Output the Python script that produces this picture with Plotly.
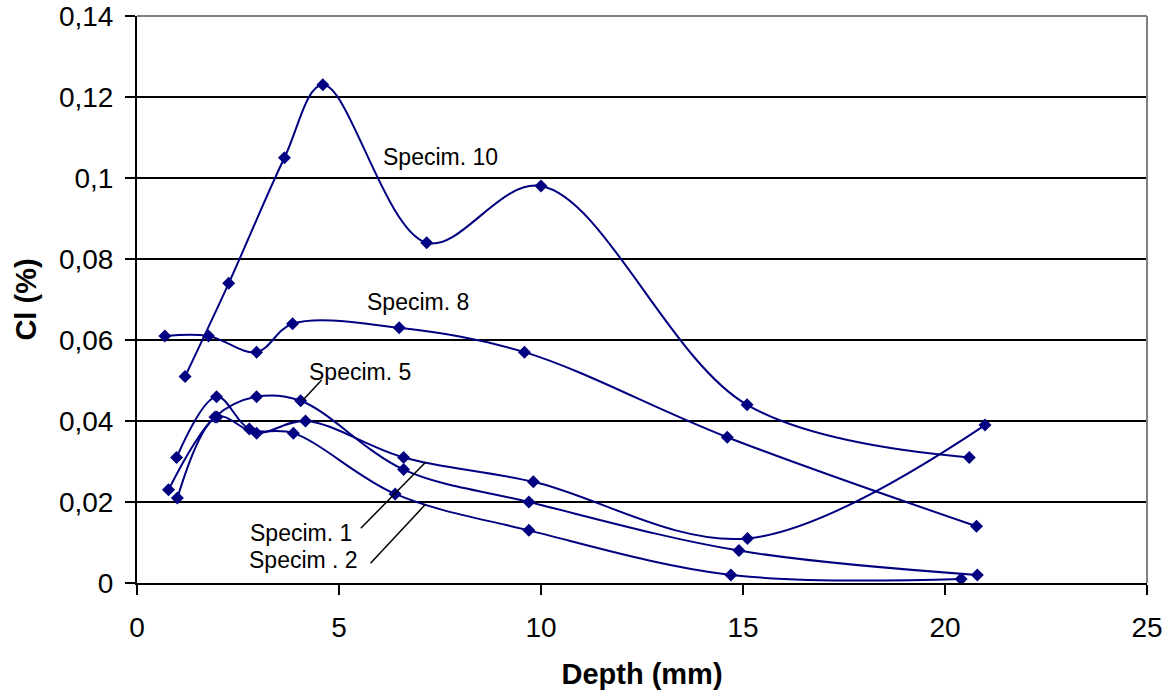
import plotly.graph_objects as go

# Chloride content profiles (Cl %) versus depth (mm) for five specimens
spec1_depth = [1.0, 1.98, 2.96, 4.17, 6.6, 9.81, 15.11, 20.99]
spec1_cl = [0.021, 0.041, 0.037, 0.040, 0.031, 0.025, 0.011, 0.039]

spec2_depth = [0.98, 1.97, 2.78, 3.87, 6.39, 9.7, 14.7, 20.4]
spec2_cl = [0.031, 0.046, 0.038, 0.037, 0.022, 0.013, 0.002, 0.001]

spec5_depth = [0.78, 1.93, 2.96, 4.05, 6.6, 9.7, 14.9, 20.8]
spec5_cl = [0.023, 0.041, 0.046, 0.045, 0.028, 0.020, 0.008, 0.002]

spec8_depth = [0.69, 1.77, 2.96, 3.85, 6.49, 9.59, 14.61, 20.78]
spec8_cl = [0.061, 0.061, 0.057, 0.064, 0.063, 0.057, 0.036, 0.014]

spec10_depth = [1.19, 2.27, 3.65, 4.6, 7.17, 10.0, 15.1, 20.6]
spec10_cl = [0.051, 0.074, 0.105, 0.123, 0.084, 0.098, 0.044, 0.031]

y_ticks = [0, 0.02, 0.04, 0.06, 0.08, 0.1, 0.12, 0.14]
x_ticks = [0, 5, 10, 15, 20, 25]

LINE = "#000080"
FONT = "Arial, Liberation Sans, sans-serif"

series = [
    ("Specim. 1", spec1_depth, spec1_cl),
    ("Specim . 2", spec2_depth, spec2_cl),
    ("Specim. 5", spec5_depth, spec5_cl),
    ("Specim. 8", spec8_depth, spec8_cl),
    ("Specim. 10", spec10_depth, spec10_cl),
]

fig = go.Figure()
for name, xs, ys in series:
    fig.add_trace(go.Scatter(
        x=xs, y=ys, name=name, mode="lines+markers",
        line=dict(color=LINE, width=2, shape="spline", smoothing=1.0),
        marker=dict(symbol="diamond", size=10, color=LINE),
        showlegend=False,
    ))

# Series labels placed beside their curves
labels = [
    ("Specim. 10", 7.52, 0.1053),
    ("Specim. 8", 6.96, 0.0695),
    ("Specim. 5", 5.52, 0.0521),
    ("Specim. 1", 4.06, 0.0124),
    ("Specim . 2", 4.13, 0.0057),
]
for text, lx, ly in labels:
    fig.add_annotation(x=lx, y=ly, text=text, showarrow=False,
                       font=dict(family=FONT, size=23, color="black"))

# Leader lines from labels to curves
leaders = [
    (4.57, 0.0501, 4.11, 0.0452),
    (5.54, 0.0135, 7.13, 0.0297),
    (5.78, 0.0049, 7.13, 0.0193),
]
for x0, y0, x1, y1 in leaders:
    fig.add_shape(type="line", xref="x", yref="y", x0=x0, y0=y0, x1=x1, y1=y1,
                  line=dict(color="black", width=1.5))

# Grey frame on top and right of plot area
fig.add_shape(type="line", xref="paper", yref="paper", x0=0, y0=1, x1=1, y1=1,
              line=dict(color="#808080", width=2), layer="above")
fig.add_shape(type="line", xref="paper", yref="paper", x0=1, y0=0, x1=1, y1=1,
              line=dict(color="#808080", width=2), layer="above")

fig.update_layout(
    width=1174, height=699,
    margin=dict(l=137, r=27, t=16, b=116),
    plot_bgcolor="white", paper_bgcolor="white",
    separators=",.",
    font=dict(family=FONT, size=28, color="black"),
    xaxis=dict(
        range=[0, 25], tickvals=x_ticks, showgrid=False, zeroline=False,
        showline=True, linecolor="black", linewidth=2, automargin=False,
        ticks="outside", ticklen=10, tickwidth=2, tickcolor="black",
        tickfont=dict(size=28), ticklabelstandoff=8,
        title=dict(text="<b>Depth (mm)</b>", font=dict(size=29), standoff=22),
    ),
    yaxis=dict(
        range=[0, 0.14], tickvals=y_ticks, showgrid=True,
        gridcolor="black", gridwidth=1.5, zeroline=False,
        showline=True, linecolor="black", linewidth=2, automargin=False,
        ticks="outside", ticklen=10, tickwidth=2, tickcolor="black",
        tickfont=dict(size=28), ticklabelstandoff=6,
        title=dict(text="<b>Cl (%)</b>", font=dict(size=29), standoff=14),
    ),
)

fig.write_html("out.html")
